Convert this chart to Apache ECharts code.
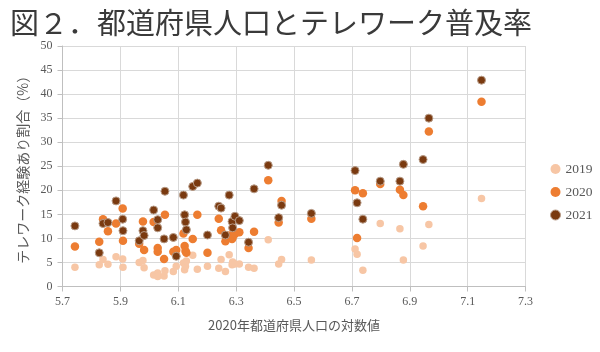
<!DOCTYPE html>
<html>
<head>
<meta charset="utf-8">
<script src="https://cdn.jsdelivr.net/npm/echarts@6/dist/echarts.min.js"></script>
<style>
html,body{margin:0;padding:0;background:#fff;}
#chart{width:600px;height:352px;}
</style>
</head>
<body>
<div id="chart"></div>
<script>
// Prefectures (ordered by population)
var prefs = ['鳥取','島根','高知','徳島','福井','山梨','佐賀','和歌山','香川','秋田','富山','山形','宮崎','大分','石川','岩手','青森','長崎','奈良','愛媛','山口','滋賀','沖縄','鹿児島','熊本','三重','福島','岡山','栃木','群馬','岐阜','長野','新潟','宮城','京都','広島','茨城','静岡','福岡','北海道','兵庫','千葉','埼玉','愛知','大阪','神奈川','東京'];
// log10 of 2020 population (thousands)
var logPop = [5.743,5.827,5.840,5.857,5.885,5.908,5.909,5.965,5.978,5.982,6.015,6.029,6.029,6.051,6.054,6.083,6.093,6.118,6.122,6.125,6.128,6.150,6.166,6.201,6.240,6.248,6.263,6.276,6.286,6.288,6.296,6.311,6.343,6.362,6.411,6.447,6.457,6.560,6.711,6.718,6.738,6.798,6.866,6.878,6.946,6.966,7.148];
// Telework experience rate (%)
var r2019 = [4.0,4.5,5.6,4.6,6.2,5.7,4.0,5.0,5.4,3.9,2.4,2.8,2.1,2.2,3.3,3.1,4.2,4.9,3.5,4.2,5.3,6.5,3.6,4.2,3.8,5.6,3.1,6.6,4.5,5.1,4.7,4.7,4.0,3.8,9.7,4.7,5.6,5.5,7.8,6.7,3.4,13.1,12.0,5.5,8.4,12.9,18.3];
var r2020 = [8.3,9.3,14.0,11.5,13.1,16.2,9.5,8.9,13.5,7.6,13.4,8.0,7.2,5.7,14.9,7.2,7.6,11.0,8.4,7.4,7.0,9.9,14.9,7.0,14.1,11.7,9.4,10.6,9.9,10.2,10.9,11.3,8.0,11.4,22.1,13.3,17.8,14.1,20.0,10.1,19.4,21.3,20.1,19.0,16.7,32.2,38.4];
var r2021 = [12.6,7.0,13.1,13.3,17.8,14.0,11.6,9.5,11.6,10.6,15.9,13.9,12.2,9.9,19.8,10.2,6.3,19.0,14.9,13.4,11.8,20.8,21.5,10.7,16.7,16.3,10.7,19.0,13.5,12.2,14.6,13.7,9.2,20.3,25.2,14.3,16.9,15.2,24.1,17.4,14.0,21.9,21.9,25.4,26.4,35.0,42.9];
var seriesNames = ['2019','2020','2021'];

function pts(arr){ return logPop.map(function(x,i){ return [x, arr[i]]; }); }

var chart = echarts.init(document.getElementById('chart'), null, {renderer:'canvas'});
var serifNum = '"Liberation Serif", "DejaVu Serif", serif';
var jp = '"Noto Sans CJK JP", "Noto Sans", sans-serif';
chart.setOption({
  animation: false,
  backgroundColor: '#ffffff',
  title: {
    text: '図２．都道府県人口とテレワーク普及率',
    left: 5, top: 3,
    textStyle: {fontFamily: jp, fontSize: 29, fontWeight: 'normal', color: '#3a3a3a'}
  },
  grid: {left: 62.5, right: 74.5, top: 46, bottom: 65.5},
  legend: {
    orient: 'vertical', left: 545, top: 157, itemGap: 9,
    itemWidth: 10, itemHeight: 10, icon: 'circle',
    data: [
      {name: '2019', itemStyle: {color: '#F7C6A5'}},
      {name: '2020', itemStyle: {color: '#ED7D31'}},
      {name: '2021', itemStyle: {color: '#7A3A10', borderColor: '#B89C88', borderWidth: 1}}
    ],
    textStyle: {fontFamily: serifNum, fontSize: 13.5, color: '#595959'}
  },
  xAxis: {
    type: 'value', min: 5.7, max: 7.3, interval: 0.2,
    name: '2020年都道府県人口の対数値', nameLocation: 'middle', nameGap: 32,
    nameTextStyle: {fontFamily: jp, fontSize: 13, color: '#595959'},
    axisLine: {show: true, lineStyle: {color: '#BFBFBF', width: 1}},
    axisTick: {show: true, length: 5, lineStyle: {color: '#BFBFBF'}},
    axisLabel: {margin: 9, fontFamily: serifNum, fontSize: 12, color: '#595959',
      formatter: function(v){ return (Math.round(v*10)/10).toFixed(1); }},
    splitLine: {show: true, lineStyle: {color: '#D9D9D9', width: 1}}
  },
  yAxis: {
    type: 'value', min: 0, max: 50, interval: 5,
    name: 'テレワーク経験あり割合（%）', nameLocation: 'middle', nameRotate: 90, nameGap: 29,
    nameTextStyle: {fontFamily: jp, fontSize: 14, color: '#595959'},
    axisLine: {show: true, lineStyle: {color: '#BFBFBF', width: 1}},
    axisTick: {show: true, length: 5, lineStyle: {color: '#BFBFBF'}},
    axisLabel: {margin: 10, fontFamily: serifNum, fontSize: 12, color: '#595959'},
    splitLine: {show: true, lineStyle: {color: '#D9D9D9', width: 1}}
  },
  series: [
    {name: '2019', type: 'scatter', symbolSize: 7.5, data: pts(r2019),
      itemStyle: {color: '#F7C6A5', opacity: 1}},
    {name: '2020', type: 'scatter', symbolSize: 8.5, data: pts(r2020),
      itemStyle: {color: '#ED7D31', opacity: 1}},
    {name: '2021', type: 'scatter', symbolSize: 8, data: pts(r2021),
      itemStyle: {color: '#7A3A10', borderColor: '#B89C88', borderWidth: 1, opacity: 1}}
  ]
});
</script>
</body>
</html>
